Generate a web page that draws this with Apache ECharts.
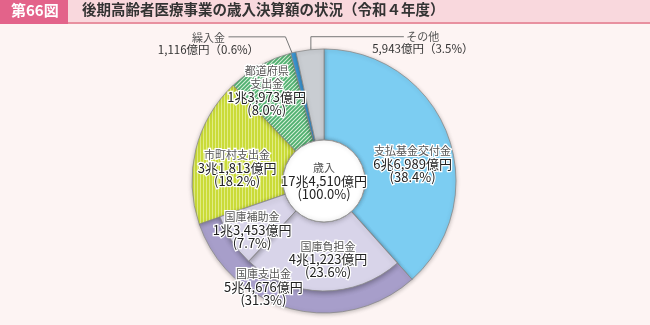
<!DOCTYPE html>
<html><head><meta charset="utf-8">
<script src="https://cdn.jsdelivr.net/npm/echarts@6/dist/echarts.min.js"></script>
<style>html,body{margin:0;padding:0;background:#fdf4f3}#c{width:650px;height:325px}</style>
</head><body><div id="c"></div><script>
// ---- data ----
const names = ['支払基金交付金','国庫支出金','市町村支出金','都道府県支出金','繰入金','その他'];
const labelNames = ['支払基金交付金','国庫支出金','市町村支出金','都道府県\n支出金','繰入金','その他'];
const values = [66989, 54676, 31813, 13973, 1116, 5943]; // 億円
const pcts = ['38.4','31.3','18.2','8.0','0.6','3.5'];
const subNames = ['国庫負担金','国庫補助金'];
const subValues = [41223, 13453];
const subPcts = ['23.6','7.7'];
const totalName = '歳入';
const totalValue = 174510;
const totalPct = '100.0';
const titleNo = '第66図';
const titleText = '後期高齢者医療事業の歳入決算額の状況（令和４年度）';

// ---- layout / style ----
const CX = 324, CY = 181, R_OUT = 132, R_BAND = 110, R_HOLE = 41;
const FONT = '"Noto Sans CJK JP","Noto Sans",sans-serif';

function oku(v){ const c = Math.floor(v/10000), r = v % 10000; const rs = r.toLocaleString('en-US'); return c ? c + '兆' + rs + '億円' : rs + '億円'; }
function makeStripe(){ const c=document.createElement('canvas'); c.width=3; c.height=4; const g=c.getContext('2d'); g.fillStyle='#cadb38'; g.fillRect(0,0,3,4); g.fillStyle='#e1ec84'; g.fillRect(2,0,1,4); return c; }
function makeHatch(){ const s=4; const c=document.createElement('canvas'); c.width=s; c.height=s; const g=c.getContext('2d'); g.fillStyle='#d9f0da'; g.fillRect(0,0,s,s); g.strokeStyle='#4fb070'; g.lineWidth=1.8; g.beginPath(); g.moveTo(-1,s+1); g.lineTo(s+1,-1); g.moveTo(-1,1); g.lineTo(1,-1); g.moveTo(s-1,s+1); g.lineTo(s+1,s-1); g.stroke(); return c; }
const colors = ['#7ccdf2','#a79eca',{image:makeStripe(),repeat:'repeat'},{image:makeHatch(),repeat:'repeat'},'#3f9ddb','#c9cdd2'];
const subColor = '#d8d4e9';

const halo = {textBorderColor:'#fff', textBorderWidth:2.5};
const rich = {
  n: Object.assign({fontFamily:FONT, fontSize:11, lineHeight:13, color:'#555'}, halo),
  v: Object.assign({fontFamily:FONT, fontSize:13, lineHeight:13, color:'#222'}, halo),
  o: {fontFamily:FONT, fontSize:11.5, lineHeight:12, color:'#333'},
  on: {fontFamily:FONT, fontSize:11, lineHeight:12, color:'#555'}
};
function inLabel(name, v, pct){ return name.split('\n').map(s => '{n|' + s + '}').join('\n') + '\n{v|' + oku(v) + '}\n{v|(' + pct + '%)}'; }
function outLabel(name, v, pct){ return '{on|' + name + '}\n{o|' + oku(v) + '（' + pct + '%）}'; }

const inOff = [[5,15],[-38,19],[0,8],[-14,-12]];
const subOff = [[5,0],[-6,6]];
const transparent = {color:'rgba(0,0,0,0)', borderWidth:0, shadowBlur:0};

const chart = echarts.init(document.getElementById('c'), null, {renderer:'canvas'});
chart.setOption({
  backgroundColor:'#fdf4f3',
  animation:false,
  graphic:[
    {type:'rect', left:0, top:0, z:10, shape:{width:650, height:23}, style:{fill:'#f9d8dd'}},
    {type:'rect', left:0, top:22, z:10, shape:{width:650, height:2}, style:{fill:'#e8909f'}},
    {type:'rect', left:0, top:0, z:11, shape:{width:68, height:24}, style:{fill:'#e3638a'}},
    {type:'text', left:11, top:3, z:12, style:{text:titleNo, fill:'#fff', font:'bold 15px ' + FONT}},
    {type:'text', left:82, top:2, z:12, style:{text:titleText, fill:'#333', font:'bold 14.5px ' + FONT}}
  ],
  series:[
    { // full ring shapes
      type:'pie', center:[CX,CY], radius:[R_HOLE,R_OUT], startAngle:90, clockwise:true, silent:true,
      label:{show:false}, labelLine:{show:false},
      itemStyle:{borderColor:'#8a8a8a', borderWidth:0.8, shadowBlur:4, shadowColor:'rgba(0,0,0,0.25)', shadowOffsetY:1},
      data: values.map((v,i) => ({name:names[i], value:v, itemStyle:{color:colors[i]}}))
    },
    { // inner split of 国庫支出金
      type:'pie', center:[CX,CY], radius:[R_HOLE,R_BAND], startAngle:90, clockwise:true, silent:true,
      avoidLabelOverlap:false, labelLine:{show:false},
      itemStyle:{borderColor:'#8a8a8a', borderWidth:0.8, shadowBlur:5, shadowColor:'rgba(0,0,0,0.3)', shadowOffsetY:2},
      label:{show:true, position:'inside', rich:rich, formatter:p => p.data.txt},
      data: [{value:values[0], itemStyle:transparent, label:{show:false}}]
        .concat(subValues.map((v,i) => ({name:subNames[i], value:v, txt:inLabel(subNames[i], v, subPcts[i]), itemStyle:{color:subColor}})))
        .concat(values.slice(2).map(v => ({value:v, itemStyle:transparent, label:{show:false}}))),
      labelLayout: p => { const k = p.dataIndex - 1; return (k >= 0 && k < 2) ? {dx:subOff[k][0], dy:subOff[k][1]} : {}; }
    },
    { // centre hole
      type:'pie', center:[CX,CY], radius:[0,R_HOLE], silent:true,
      itemStyle:{color:'#fff', borderColor:'#9a9a9a', borderWidth:1, shadowBlur:4, shadowColor:'rgba(0,0,0,0.25)'},
      label:{show:true, position:'center', rich:rich, formatter:'{n|' + totalName + '}\n{v|' + oku(totalValue) + '}\n{v|(' + totalPct + '%)}'},
      labelLine:{show:false},
      data:[{name:totalName, value:totalValue}]
    },
    { // label carrier
      type:'pie', center:[CX,CY], radius:[R_HOLE,R_OUT], startAngle:90, clockwise:true, silent:true,
      avoidLabelOverlap:false,
      itemStyle:transparent,
      label:{show:true, rich:rich, formatter:p => p.data.txt},
      data: values.map((v,i) => i < 4
        ? {name:names[i], value:v, txt:inLabel(labelNames[i], v, pcts[i]), label:{position:'inside'}, labelLine:{show:false}}
        : {name:names[i], value:v, txt:outLabel(labelNames[i], v, pcts[i]), label:{position:'outside'}, labelLine:{show:true, length:10, length2:10, lineStyle:{color:'#777', width:1}}}),
      labelLayout: function(p){
        const i = p.dataIndex;
        if (i < 4) return {dx:inOff[i][0], dy:inOff[i][1]};
        const p0 = p.labelLinePoints && p.labelLinePoints[0];
        if (!p0) return {};
        const k = (R_OUT - 9) / R_OUT;
        const tip = [CX + (p0[0]-CX)*k, CY + (p0[1]-CY)*k];
        if (i === 5) return {x:tip[0]+112, y:tip[1]-16, align:'center', verticalAlign:'middle',
          labelLinePoints:[tip, [tip[0], tip[1]-22], [tip[0]+93, tip[1]-22]]};
        return {x:tip[0]-87, y:tip[1]-18, align:'center', verticalAlign:'middle',
          labelLinePoints:[tip, [tip[0]-10, tip[1]-24.5], [tip[0]-67, tip[1]-24.5]]};
      }
    }
  ]
});
</script></body></html>
